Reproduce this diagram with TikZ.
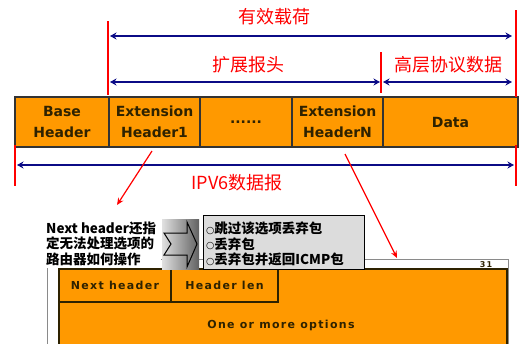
\documentclass[tikz,border=0pt]{standalone}
\usepackage{fontspec}
\setmainfont{DejaVu Sans}
\newfontfamily\cjk{Noto Sans CJK SC}
\newfontfamily\dv{DejaVu Sans}
\usetikzlibrary{arrows.meta}
\definecolor{orangefill}{HTML}{FF9900}
\definecolor{celltext}{HTML}{2E2200}
\definecolor{dimblue}{HTML}{0B0B86}
\definecolor{optgray}{HTML}{DCDCDC}
\definecolor{framegray}{HTML}{8A8A8A}
\newcommand{\ring}{\raisebox{0.6pt}{\dv\fontsize{9.5}{9.5}\selectfont ○}}
\begin{document}
\begin{tikzpicture}[x=1pt,y=-1pt,
  cell/.style={draw=black!80, line width=1.2pt, fill=orangefill, minimum height=50pt,
    inner sep=0pt, outer sep=0pt, align=center, text=celltext,
    font=\dv\bfseries\fontsize{14}{21}\selectfont},
  subcell/.style={draw=celltext, line width=1.2pt, fill=orangefill, inner sep=0pt, outer sep=0pt,
    text=celltext, font=\dv\bfseries\fontsize{11}{13}\selectfont\addfontfeature{LetterSpace=12}},
  marker/.style={red, line width=2.4pt},
  dim/.style={dimblue, line width=1.7pt, {Stealth[length=6.5pt,width=7pt]}-{Stealth[length=6.5pt,width=7pt]}},
  pointer/.style={red, line width=1.2pt, -{Stealth[length=7pt,width=6pt]}},
  redlabel/.style={red, font=\cjk\fontsize{18}{18}\selectfont, inner sep=0pt},
  blacklabel/.style={black, font=\cjk\bfseries\fontsize{13.5}{15.5}\selectfont, inner sep=0pt, align=left}
]
\useasboundingbox (0,0) rectangle (522,343);
\fill[white] (0,0) rectangle (522,343);

% datagram row
\node[cell, minimum width=94pt] (base) at (62,122) {Base\\Header};
\node[cell, minimum width=91pt] (ext1) at (154.5,122) {Extension\\Header1};
\node[cell, minimum width=92pt] (dots) at (246,122) {......};
\node[cell, minimum width=91pt] (extN) at (337.5,122) {Extension\\HeaderN};
\node[cell, minimum width=135pt] (data) at (450.5,122) {Data};

% boundary markers
\coordinate (m1a) at (108,21);  \coordinate (m1b) at (108,95);
\coordinate (m2a) at (381,52);  \coordinate (m2b) at (381,93);
\coordinate (m3a) at (516,10);  \coordinate (m3b) at (516,97);
\coordinate (m4a) at (15,145);  \coordinate (m4b) at (15,186);
\coordinate (m5a) at (516,145); \coordinate (m5b) at (516,186);
\foreach \a/\b in {m1a/m1b, m2a/m2b, m3a/m3b, m4a/m4b, m5a/m5b}
  \draw[marker] (\a) -- (\b);

% dimension arrows
\coordinate (p1) at (110,36);  \coordinate (p2) at (512,36);
\coordinate (e1) at (110,82);  \coordinate (e2) at (380,82);
\coordinate (d1) at (383,82);  \coordinate (d2) at (512,82);
\coordinate (w1) at (17,165);  \coordinate (w2) at (514,165);
\draw[dim] (p1) -- (p2);
\draw[dim] (e1) -- (e2);
\draw[dim] (d1) -- (d2);
\draw[dim] (w1) -- (w2);

\node[redlabel] (lpay) at (274,17) {有效载荷};
\node[redlabel] (lext) at (248,65) {扩展报头};
\node[redlabel] (lup)  at (448,65) {高层协议数据};
\node[redlabel] (ldg)  at (237,183) {IPV6数据报};

% option header layout
\draw[framegray, line width=1pt] (47,346) -- (47,259) -- (508,259) -- (508,346);
\node[font=\dv\bfseries\fontsize{8}{8}\selectfont, text=celltext, inner sep=0pt] (b31) at (486,264.5) {3\,1};
\draw[celltext, line width=1.2pt, fill=orangefill] (59,346) rectangle (507,269);
\node[subcell, minimum width=112pt, minimum height=33pt, anchor=north west] (nh) at (59,269) {Next header};
\node[subcell, minimum width=107pt, minimum height=33pt, anchor=north west] (hl) at (171,269) {Header len};
\node[text=celltext, font=\dv\bfseries\fontsize{11}{13}\selectfont\addfontfeature{LetterSpace=12}, inner sep=0pt] (opt) at (281,325) {One or more options};

% note on unrecognised options
\fill[white] (40,214) rectangle (161,268);
\node[blacklabel, anchor=west] (note) at (46,243.5) {Next header还指\\定无法处理选项的\\路由器如何操作};
\shade[left color=white!88!black, right color=black!62] (162,219) rectangle (199,269);
\draw[black, line width=1pt, line join=miter]
  (164,233) -- (187,233) -- (187,222) -- (197,244) -- (187,267) -- (187,255) -- (164,255) -- (171,244) -- cycle;
\node[draw=black, line width=1pt, fill=optgray, minimum width=161pt, minimum height=54pt,
  anchor=north west, inner sep=0pt] (opts) at (203,215) {};
\node[blacklabel, anchor=west] (optsT) at (206,244) {\ring 跳过该选项丢弃包\\\ring 丢弃包\\\ring 丢弃包并返回ICMP包};

% pointers from the extension headers
\coordinate (q1) at (152,151); \coordinate (q2) at (117,205);
\coordinate (r1) at (345,154); \coordinate (r2) at (397,258);
\draw[pointer] (q1) -- (q2);
\draw[pointer] (r1) -- (r2);
\end{tikzpicture}
\end{document}
